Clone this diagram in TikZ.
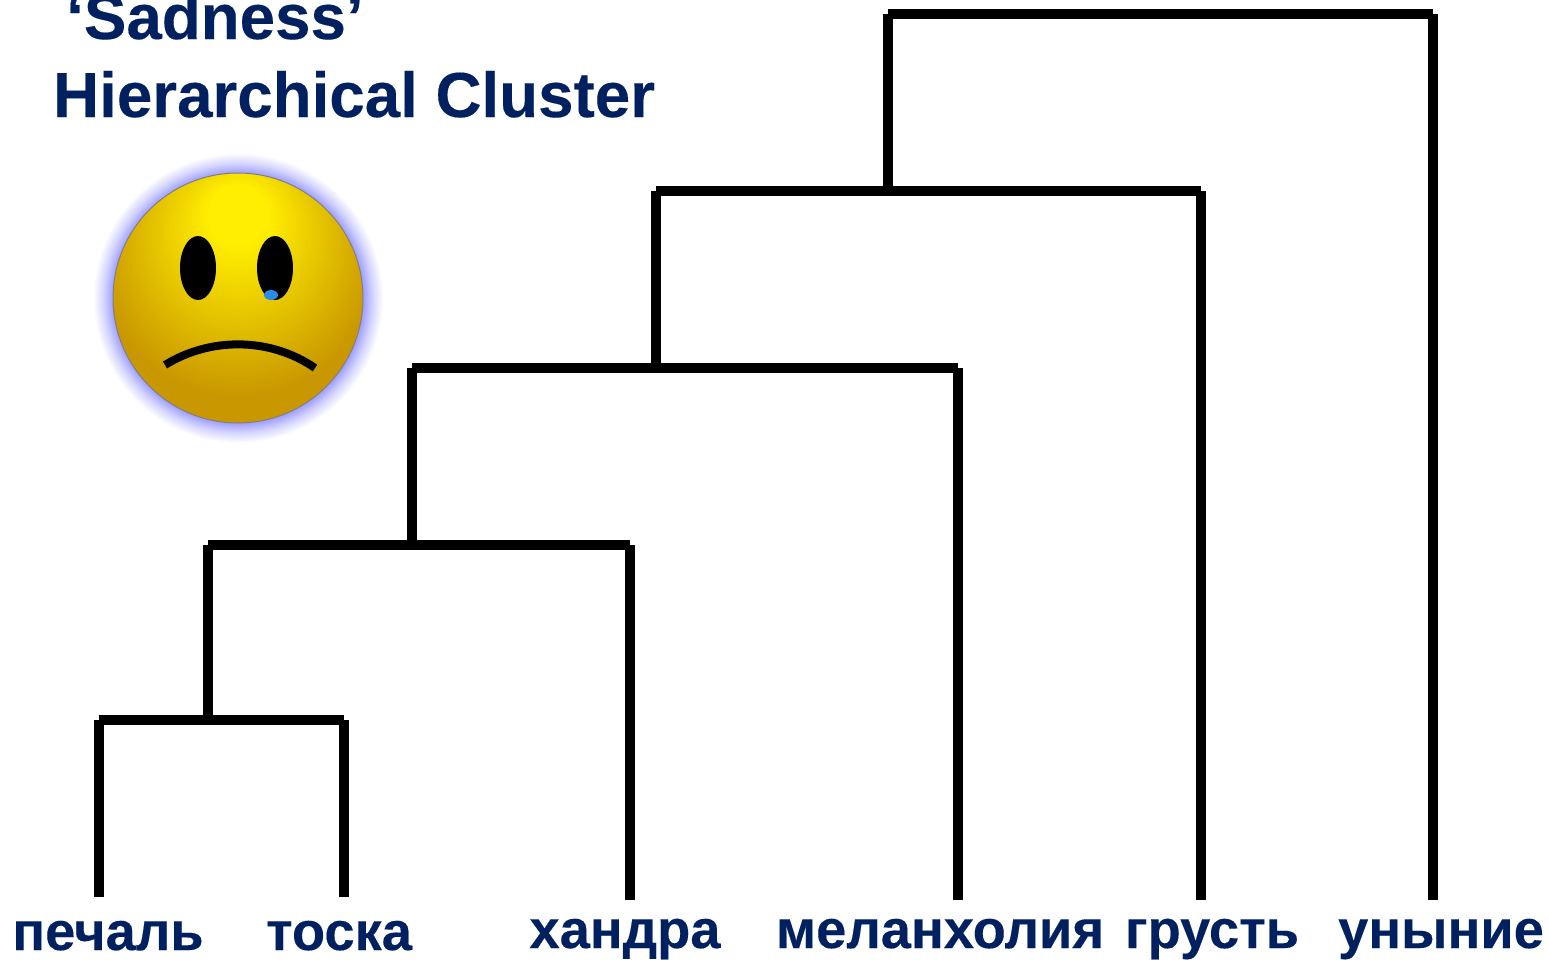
\documentclass[tikz,border=0pt]{standalone}
\usepackage{fontspec}
\setmainfont[BoldFeatures={FakeBold=0.25}]{Liberation Sans}
\usetikzlibrary{calc}
\definecolor{ttlblue}{HTML}{002060}
\definecolor{facegold}{HTML}{C99700}
\definecolor{faceyel}{HTML}{FFEE00}
\definecolor{glowblue}{HTML}{A0A0FF}
\definecolor{glowpale}{HTML}{D4D4FF}
\definecolor{tearblue}{HTML}{2A8CE6}
\pgfdeclareradialshading{facesh}{\pgfpoint{0bp}{19bp}}{
  color(0bp)=(faceyel);
  color(6bp)=(faceyel);
  color(28bp)=(facegold);
  color(50bp)=(facegold)
}
\pgfdeclareradialshading{glowsh}{\pgfpoint{0bp}{0bp}}{
  color(0bp)=(glowblue);
  color(21.6bp)=(glowblue);
  color(23.2bp)=(glowpale);
  color(25bp)=(white);
  color(50bp)=(white)
}
\tikzset{dnp/.style={
  x=1pt,
  y=-1pt
}}
\tikzset{brn/.style={
  draw=black,
  line width=10pt,
  line cap=butt
}}
\tikzset{ttl/.style={
  text=ttlblue,
  font=\fontsize{63.7}{70}\selectfont\bfseries,
  inner sep=0pt,
  anchor=base west
}}
\tikzset{lfn/.style={
  text=ttlblue,
  font=\fontsize{54.3}{60}\selectfont\bfseries,
  inner sep=0pt,
  anchor=base
}}
\begin{document}
\begin{tikzpicture}[dnp]
    \useasboundingbox (0,0) rectangle (1549,959);
    % Title
    \node[ttl] (ttlA) at (66,39) {‘Sadness’};
    \node[ttl] (ttlB) at (53,117) {Hierarchical Cluster};
    % Smiley
    \shade[shading=glowsh] (238,298) circle (145);
    \shade[shading=facesh,draw=gray,line width=1pt] (238,298) circle (125);
    \fill[black] (198,268) ellipse (18 and 32);
    \fill[black] (275,268) ellipse (18 and 32);
    \fill[tearblue] (271,295) ellipse (7 and 5);
    \draw[black,line width=8pt] (165,365) .. controls (210,337) and (270,337) .. (315,368);
    % Leaf labels
    \node[lfn] (pechal) at (108,950) {печаль};
    \node[lfn] (toska) at (339,950) {тоска};
    \node[lfn] (khandra) at (625,948) {хандра};
    \node[lfn] (melan) at (940,948) {меланхолия};
    \node[lfn] (grust) at (1212,948) {грусть};
    \node[lfn] (unyn) at (1441,948) {уныние};
    % Free ends above the labels
    \coordinate (pechalE) at (99,897);
    \coordinate (toskaE) at (344,897);
    \coordinate (khandraE) at (630,900);
    \coordinate (melanE) at (958,900);
    \coordinate (grustE) at (1201,900);
    \coordinate (unynE) at (1433,900);
    % Joins
    \coordinate (jnA) at (208,720);
    \coordinate (jnB) at (412,545);
    \coordinate (jnC) at (656,368);
    \coordinate (jnD) at (888,191);
    \coordinate (jnE) at (888,14);
    % Branches
    \draw[brn] (pechalE) -- (pechalE |- jnA);
    \draw[brn] (toskaE) -- (toskaE |- jnA);
    \draw[brn] (pechalE |- jnA) -- (toskaE |- jnA);
    \draw[brn] (jnA) -- (jnA |- jnB);
    \draw[brn] (khandraE) -- (khandraE |- jnB);
    \draw[brn] (jnA |- jnB) -- (khandraE |- jnB);
    \draw[brn] (jnB) -- (jnB |- jnC);
    \draw[brn] (melanE) -- (melanE |- jnC);
    \draw[brn] (jnB |- jnC) -- (melanE |- jnC);
    \draw[brn] (jnC) -- (jnC |- jnD);
    \draw[brn] (grustE) -- (grustE |- jnD);
    \draw[brn] (jnC |- jnD) -- (grustE |- jnD);
    \draw[brn] (jnD) -- (jnE);
    \draw[brn] (unynE) -- (unynE |- jnE);
    \draw[brn] (jnE) -- (unynE |- jnE);
\end{tikzpicture}
\end{document}
